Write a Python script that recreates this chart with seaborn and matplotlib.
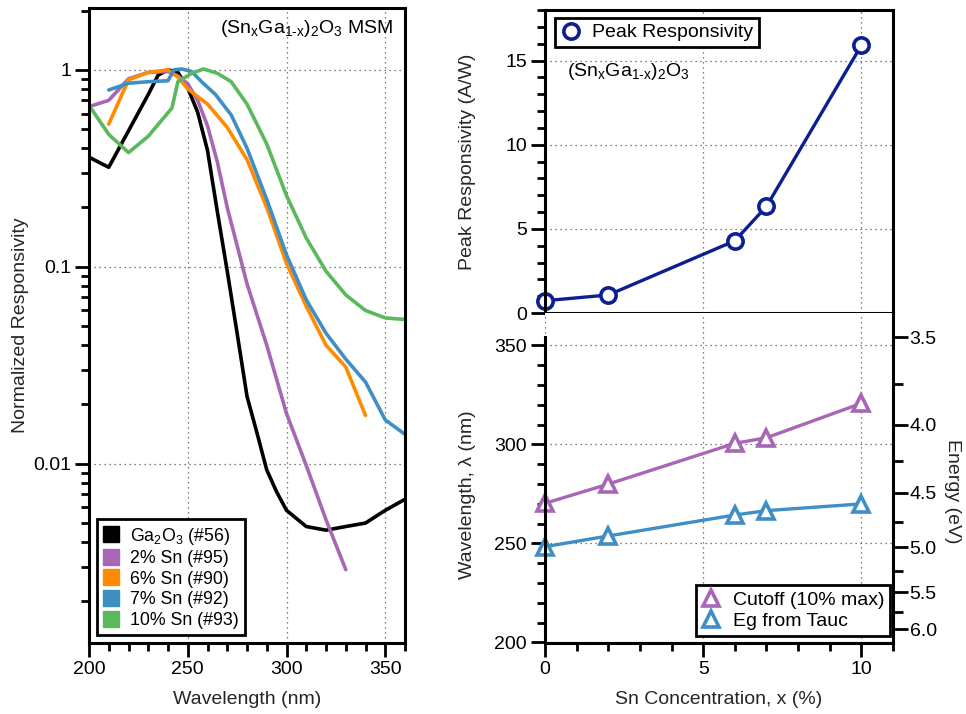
import numpy as np
import pandas as pd
import matplotlib
matplotlib.use("Agg")
import matplotlib.pyplot as plt
import seaborn as sns
from matplotlib.lines import Line2D
from matplotlib.ticker import (FixedLocator, MultipleLocator, LogLocator,
                               FuncFormatter, NullFormatter)

# ---------------- data ----------------
wl_ga2o3 = [200, 210, 220, 230, 235, 240, 245, 250, 255, 260, 265, 270, 275, 280,
            285, 290, 295, 300, 310, 320, 330, 340, 350, 360]
r_ga2o3 = [0.36, 0.32, 0.49, 0.75, 0.94, 1.0, 0.97, 0.81, 0.61, 0.39, 0.19, 0.095,
           0.046, 0.022, 0.0144, 0.0093, 0.0072, 0.0058, 0.0048, 0.0046, 0.0048,
           0.0050, 0.0058, 0.0066]
wl_sn2 = [200, 210, 220, 230, 240, 245, 250, 255, 260, 265, 270, 280, 290, 300,
          310, 320, 330]
r_sn2 = [0.65, 0.70, 0.90, 0.97, 0.98, 0.93, 0.85, 0.70, 0.52, 0.34, 0.20, 0.082,
         0.040, 0.018, 0.0098, 0.0052, 0.0029]
wl_sn6 = [210, 220, 230, 240, 245, 250, 260, 270, 280, 290, 300, 310, 320, 330, 340]
r_sn6 = [0.53, 0.89, 0.97, 1.0, 0.92, 0.80, 0.67, 0.51, 0.35, 0.20, 0.104, 0.063,
         0.040, 0.031, 0.0176]
wl_sn7 = [210, 220, 230, 240, 243, 247, 252, 257, 264, 272, 280, 290, 300, 310,
          320, 330, 340, 350, 360]
r_sn7 = [0.79, 0.855, 0.87, 0.88, 1.0, 1.01, 0.98, 0.87, 0.75, 0.59, 0.40, 0.22,
         0.115, 0.068, 0.046, 0.034, 0.026, 0.0167, 0.0141]
wl_sn10 = [200, 210, 220, 230, 242, 245, 252, 258, 265, 272, 280, 290, 300, 310,
           320, 330, 340, 350, 360]
r_sn10 = [0.66, 0.47, 0.38, 0.46, 0.64, 0.87, 0.96, 1.01, 0.96, 0.87, 0.67, 0.42,
          0.23, 0.14, 0.095, 0.072, 0.060, 0.055, 0.054]

sample_labels = ["Ga$_2$O$_3$ (#56)", "2% Sn (#95)", "6% Sn (#90)",
                 "7% Sn (#92)", "10% Sn (#93)"]
sample_colors = ["#000000", "#a866b6", "#ff8c00", "#3f8fc5", "#5cb85c"]

sn_conc = [0, 2, 6, 7, 10]
peak_resp = [0.73, 1.07, 4.29, 6.33, 15.9]
cutoff_wl = [270.3, 280.0, 300.6, 303.4, 320.8]
tauc_wl = [248.4, 253.8, 264.4, 266.6, 270.0]

navy = "#0b1f91"
purple = "#a866b6"
blue = "#3f8fc5"

# ---------------- style ----------------
sns.set_style("ticks")
plt.rcParams["font.family"] = ["Liberation Sans", "DejaVu Sans"]
plt.rcParams["mathtext.fontset"] = "custom"
plt.rcParams["mathtext.rm"] = "Liberation Sans"
plt.rcParams["mathtext.it"] = "Liberation Sans"
plt.rcParams["mathtext.default"] = "regular"
plt.rcParams["axes.edgecolor"] = "black"
plt.rcParams["text.color"] = "black"
plt.rcParams["xtick.color"] = "black"
plt.rcParams["ytick.color"] = "black"

W, H = 966, 714
fig = plt.figure(figsize=(W / 100, H / 100), dpi=100)


def rect(x0, y0, x1, y1):
    return [x0 / W, 1 - y1 / H, (x1 - x0) / W, (y1 - y0) / H]


ax1 = fig.add_axes(rect(89, 8, 405, 643))
ax2 = fig.add_axes(rect(545, 10, 893, 313))
ax3 = fig.add_axes(rect(545, 313, 893, 642.5))

SPW = 2.2
GRID = dict(linestyle=(0, (1, 3)), color="#555555", linewidth=0.9)


def style_axes(ax):
    for s in ax.spines.values():
        s.set_linewidth(SPW)
        s.set_color("black")
    ax.tick_params(which="major", direction="out", length=10, width=2,
                   labelsize=14, pad=3, top=False, right=False)
    ax.tick_params(which="minor", direction="out", length=5.5, width=2,
                   top=False, right=False)
    ax.set_axisbelow(True)
    ax.grid(True, which="major", **GRID)


# ---------------- left panel ----------------
frames = []
for lab, wl, r in zip(sample_labels,
                      [wl_ga2o3, wl_sn2, wl_sn6, wl_sn7, wl_sn10],
                      [r_ga2o3, r_sn2, r_sn6, r_sn7, r_sn10]):
    frames.append(pd.DataFrame({"wl": wl, "R": r, "sample": lab}))
df = pd.concat(frames, ignore_index=True)

sns.lineplot(data=df, x="wl", y="R", hue="sample", hue_order=sample_labels,
             palette=dict(zip(sample_labels, sample_colors)), ax=ax1,
             sort=False, estimator=None, linewidth=2.6, legend=False)
ax1.set_yscale("log")
ax1.set_xlim(200, 360)
ax1.set_ylim(0.00123, 2.06)
style_axes(ax1)
ax1.xaxis.set_major_locator(MultipleLocator(50))
ax1.xaxis.set_minor_locator(MultipleLocator(10))
ax1.yaxis.set_major_locator(LogLocator(base=10))
ax1.yaxis.set_minor_locator(LogLocator(base=10, subs=np.arange(2, 10)))
ax1.yaxis.set_major_formatter(FuncFormatter(lambda v, p: f"{v:g}"))
ax1.yaxis.set_minor_formatter(NullFormatter())
ax1.set_xlabel("Wavelength (nm)", fontsize=14, va="center")
ax1.xaxis.set_label_coords(0.5, (643 - 700) / 635)
ax1.set_ylabel("Normalized Responsivity", fontsize=14, va="center",
               rotation_mode="default")
ax1.yaxis.set_label_coords((21 - 89) / 316, 0.5)
ax1.text(0.963, 0.967, "(Sn$_x$Ga$_{1\u2010x}$)$_2$O$_3$ MSM",
         transform=ax1.transAxes, ha="right", va="center", fontsize=14)

h1 = [Line2D([], [], ls="none", marker="s", markersize=11, color=c,
             markeredgecolor=c) for c in sample_colors]
leg1 = ax1.legend(h1, sample_labels, loc="lower left",
                  bbox_to_anchor=(8 / 316, 8 / 635), borderaxespad=0,
                  fontsize=12.8, frameon=True, fancybox=False, edgecolor="black",
                  framealpha=1, handlelength=0.9, handletextpad=0.6,
                  labelspacing=0.2, borderpad=0.35, numpoints=1)
leg1.get_frame().set_linewidth(2)

# ---------------- top-right panel ----------------
sns.lineplot(x=sn_conc, y=peak_resp, ax=ax2, color=navy, linewidth=2.4,
             marker="o", markersize=11, markerfacecolor="white",
             markeredgecolor=navy, markeredgewidth=2.6, clip_on=False,
             sort=False, legend=False)
ax2.set_xlim(0, 11)
ax2.set_ylim(0, 18)
style_axes(ax2)
ax2.xaxis.set_major_locator(MultipleLocator(5))
ax2.yaxis.set_major_locator(MultipleLocator(5))
ax2.yaxis.set_minor_locator(MultipleLocator(1))
ax2.tick_params(axis="x", which="both", length=0, labelbottom=False)
ax2.set_ylabel("Peak Responsivity (A/W)", fontsize=14, va="center",
               rotation_mode="default")
ax2.yaxis.set_label_coords((468 - 545) / 348, 0.5)
ax2.text((567 - 545) / 348, (313 - 72) / 303, "(Sn$_x$Ga$_{1\u2010x}$)$_2$O$_3$",
         transform=ax2.transAxes, ha="left", va="center", fontsize=14)
h2 = [Line2D([], [], ls="none", marker="o", markersize=11,
             markerfacecolor="white", markeredgecolor=navy, markeredgewidth=2.6)]
leg2 = ax2.legend(h2, ["Peak Responsivity"], loc="upper left",
                  bbox_to_anchor=(10 / 348, 1 - 8 / 303), borderaxespad=0,
                  fontsize=14, frameon=True, fancybox=False, edgecolor="black",
                  framealpha=1, handlelength=1.0, handletextpad=0.6,
                  borderpad=0.3, numpoints=1)
leg2.get_frame().set_linewidth(2)

# ---------------- bottom-right panel ----------------
sns.lineplot(x=sn_conc, y=cutoff_wl, ax=ax3, color=purple, linewidth=2.4,
             marker="^", markersize=11, markerfacecolor="white",
             markeredgecolor=purple, markeredgewidth=2.6, clip_on=False,
             sort=False, legend=False)
sns.lineplot(x=sn_conc, y=tauc_wl, ax=ax3, color=blue, linewidth=2.4,
             marker="^", markersize=11, markerfacecolor="white",
             markeredgecolor=blue, markeredgewidth=2.6, clip_on=False,
             sort=False, legend=False)
ax3.set_xlim(0, 11)
ax3.set_ylim(200, 200 + (642.5 - 313) / 1.98)
style_axes(ax3)
ax3.spines["top"].set_visible(False)
ax3.spines["right"].set_visible(False)
ax3.spines["left"].set_bounds(200, 354.5)
ax3.xaxis.set_major_locator(MultipleLocator(5))
ax3.xaxis.set_minor_locator(MultipleLocator(1))
ax3.yaxis.set_major_locator(FixedLocator([200, 250, 300, 350]))
ax3.yaxis.set_minor_locator(FixedLocator(list(range(200, 360, 10))))
ax3.set_xlabel("Sn Concentration, x (%)", fontsize=14, va="center")
ax3.xaxis.set_label_coords(0.5, (642.5 - 700) / 329.5)
ax3.set_ylabel("Wavelength, \u03bb (nm)", fontsize=14, va="center",
               rotation_mode="default")
ax3.yaxis.set_label_coords((468 - 545) / 348, (642.5 - 495) / 329.5)


def wl2e(x):
    x = np.asarray(x, dtype=float)
    with np.errstate(divide="ignore", invalid="ignore"):
        return 1240.0 / x


sec = ax3.secondary_yaxis("right", functions=(wl2e, wl2e))
sec.yaxis.set_major_locator(FixedLocator([3.5, 4.0, 4.5, 5.0, 5.5, 6.0]))
sec.yaxis.set_minor_locator(FixedLocator([3.75, 4.25, 4.75, 5.25, 5.75]))
sec.yaxis.set_major_formatter(FuncFormatter(lambda v, p: f"{v:.1f}"))
sec.yaxis.set_minor_formatter(NullFormatter())
sec.tick_params(which="major", direction="out", length=11, width=2, pad=1,
                labelsize=14)
sec.tick_params(which="minor", direction="out", length=7, width=2)
sec.spines["right"].set_linewidth(SPW)
sec.set_ylabel("Energy (eV)", fontsize=14, rotation=270, va="center",
               ha="center", rotation_mode="default")
sec.yaxis.set_label_coords((952 - 545) / 348, (642.5 - 491) / 329.5,
                           transform=ax3.transAxes)

h3 = [Line2D([], [], ls="none", marker="^", markersize=11,
             markerfacecolor="white", markeredgecolor=c, markeredgewidth=2.6)
      for c in (purple, blue)]
leg3 = ax3.legend(h3, ["Cutoff (10% max)", "Eg from Tauc"], loc="lower right",
                  bbox_to_anchor=(1 - 3 / 348, 6.5 / 329.5), borderaxespad=0,
                  fontsize=14, frameon=True, fancybox=False, edgecolor="black",
                  framealpha=1, handlelength=1.0, handletextpad=0.6,
                  labelspacing=0.2, borderpad=0.3, numpoints=1)
leg3.get_frame().set_linewidth(2)

fig.savefig("out.png", dpi=100, facecolor="white")
